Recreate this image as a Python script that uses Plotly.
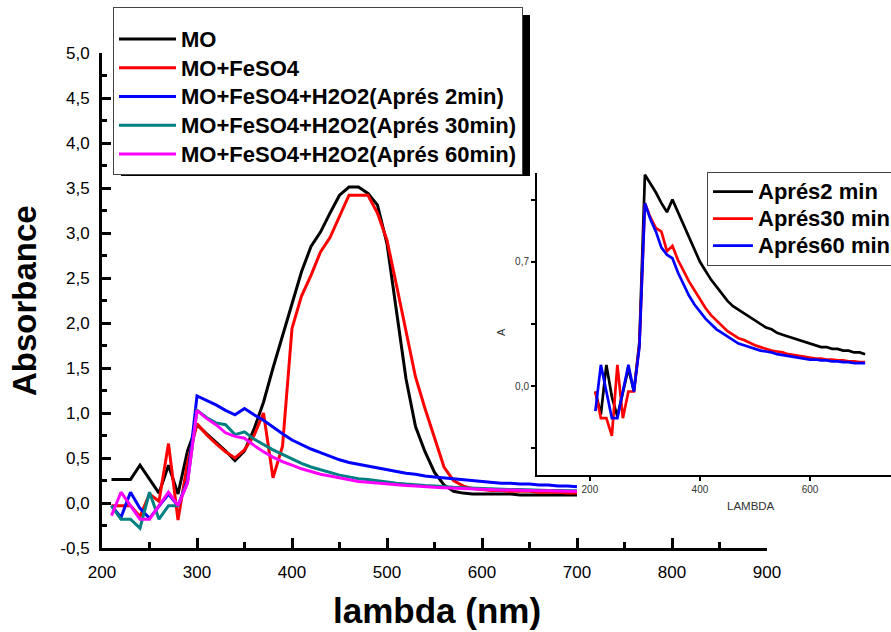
import plotly.graph_objects as go

# ---------------- data ----------------
wavelength = [210, 220, 230, 240, 250, 260, 270, 280, 290, 300,
              310, 320, 330, 340, 350, 360, 370, 380, 390, 400,
              410, 420, 430, 440, 450, 460, 470, 480, 490, 500,
              510, 520, 530, 540, 550, 560, 570, 580, 590, 600,
              610, 620, 630, 640, 650, 660, 670, 680, 690, 700]

mo = [0.26, 0.26, 0.26, 0.42, 0.27, 0.11, 0.42, 0.10, 0.58, 0.87,
      0.77, 0.68, 0.58, 0.47, 0.58, 0.82, 1.12, 1.50, 1.85, 2.22,
      2.57, 2.85, 3.01, 3.22, 3.42, 3.51, 3.51, 3.44, 3.31, 2.88,
      2.15, 1.38, 0.85, 0.57, 0.34, 0.20, 0.13, 0.11, 0.10, 0.10,
      0.10, 0.10, 0.10, 0.09, 0.09, 0.09, 0.09, 0.09, 0.09, 0.09]

mo_feso4 = [-0.03, -0.03, -0.03, -0.15, 0.10, 0.02, 0.66, -0.19, 0.45, 0.88,
            0.76, 0.66, 0.57, 0.50, 0.59, 0.75, 1.00, 0.28, 0.63, 1.94,
            2.30, 2.53, 2.79, 2.95, 3.18, 3.42, 3.42, 3.42, 3.22, 2.92,
            2.42, 1.90, 1.40, 1.05, 0.72, 0.40, 0.25, 0.19, 0.16, 0.15,
            0.14, 0.14, 0.13, 0.13, 0.13, 0.12, 0.12, 0.12, 0.11, 0.11]

h2o2_2min = [-0.03, -0.16, 0.12, -0.06, -0.17, -0.03, 0.10, -0.03, 0.25, 1.19,
             1.14, 1.09, 1.03, 0.98, 1.05, 0.98, 0.92, 0.84, 0.77, 0.70,
             0.65, 0.60, 0.56, 0.52, 0.48, 0.45, 0.43, 0.41, 0.39, 0.37,
             0.35, 0.33, 0.32, 0.30, 0.29, 0.28, 0.27, 0.26, 0.25, 0.24,
             0.23, 0.22, 0.22, 0.21, 0.21, 0.20, 0.20, 0.19, 0.19, 0.18]

h2o2_30min = [-0.03, -0.18, -0.18, -0.28, 0.12, -0.18, -0.03, -0.03, 0.23, 1.03,
              0.95, 0.89, 0.87, 0.76, 0.79, 0.71, 0.65, 0.59, 0.54, 0.49,
              0.44, 0.40, 0.37, 0.34, 0.31, 0.29, 0.27, 0.26, 0.245, 0.23,
              0.22, 0.21, 0.20, 0.195, 0.19, 0.18, 0.175, 0.17, 0.165, 0.16,
              0.155, 0.155, 0.15, 0.15, 0.145, 0.145, 0.14, 0.14, 0.135, 0.135]

h2o2_60min = [-0.14, 0.12, -0.03, -0.18, -0.18, -0.03, 0.12, -0.03, 0.22, 1.03,
              0.94, 0.87, 0.78, 0.74, 0.72, 0.64, 0.57, 0.51, 0.46, 0.42,
              0.38, 0.35, 0.32, 0.30, 0.28, 0.26, 0.24, 0.23, 0.22, 0.21,
              0.20, 0.195, 0.19, 0.18, 0.175, 0.17, 0.165, 0.16, 0.155, 0.15,
              0.15, 0.145, 0.145, 0.14, 0.14, 0.135, 0.135, 0.13, 0.13, 0.13]

main_names = ["MO", "MO+FeSO4", "MO+FeSO4+H2O2(Aprés 2min)",
              "MO+FeSO4+H2O2(Aprés 30min)", "MO+FeSO4+H2O2(Aprés 60min)"]
main_series = [mo, mo_feso4, h2o2_2min, h2o2_30min, h2o2_60min]
main_colors = ["#000000", "#ff0000", "#0000ff", "#008080", "#ff00ff"]

inset_names = ["Aprés2 min", "Aprés30 min", "Aprés60 min"]
inset_series = [h2o2_2min, h2o2_30min, h2o2_60min]
inset_colors = ["#000000", "#ff0000", "#0000ff"]

main_x_ticks = [200, 300, 400, 500, 600, 700, 800, 900]
main_y_tickvals = [-0.5, 0.0, 0.5, 1.0, 1.5, 2.0, 2.5, 3.0, 3.5, 4.0, 4.5, 5.0]
main_y_ticktext = ["-0,5", "0,0", "0,5", "1,0", "1,5", "2,0", "2,5", "3,0",
                   "3,5", "4,0", "4,5", "5,0"]
inset_x_ticks = [200, 400, 600]
inset_y_tickvals = [-0.35, 0.0, 0.35, 0.7, 1.05]
inset_y_ticktext = ["", "0,0", "", "0,7", ""]

# ---------------- figure ----------------
W, H = 891, 632
FONT = "Liberation Sans, Arial, Helvetica, sans-serif"


def px_x(p):
    return p / W


def px_y(p):
    return 1 - p / H


fig = go.Figure()

for name, ys, col in zip(main_names, main_series, main_colors):
    fig.add_trace(go.Scatter(
        x=wavelength, y=ys, mode="lines", name=name,
        legendgroup=name, legend="legend",
        line=dict(color=col, width=3),
        xaxis="x", yaxis="y"))

for name, ys, col in zip(inset_names, inset_series, inset_colors):
    fig.add_trace(go.Scatter(
        x=wavelength, y=ys, mode="lines", name=name,
        legendgroup="inset_" + name, legend="legend2",
        line=dict(color=col, width=2.7),
        xaxis="x2", yaxis="y2"))

# legend names drawn a bit larger than the font used for line spacing
for tr in fig.data:
    tr.name = '<span style="font-size:22px">' + tr.name + '</span>'

fig.update_layout(
    width=W, height=H,
    margin=dict(l=0, r=0, t=0, b=0, autoexpand=False),
    paper_bgcolor="white", plot_bgcolor="rgba(0,0,0,0)",
    font=dict(family=FONT, color="black"),
    xaxis=dict(
        domain=[px_x(102), px_x(767)], range=[200, 900], anchor="y",
        showline=True, linecolor="black", linewidth=3, mirror=False,
        showgrid=False, zeroline=False,
        tickmode="array", tickvals=main_x_ticks,
        ticks="inside", ticklen=10, tickwidth=2.5, tickcolor="black",
        tickfont=dict(size=17, color="black", family=FONT),
        ticklabelstandoff=7,
        minor=dict(tickmode="linear", tick0=0, dtick=50, ticks="inside",
                   ticklen=6, tickwidth=2.5, tickcolor="black", showgrid=False),
    ),
    yaxis=dict(
        domain=[px_y(548), px_y(53)], range=[-0.5, 5.0], anchor="x",
        showline=True, linecolor="black", linewidth=3, mirror=False,
        showgrid=False, zeroline=False,
        tickmode="array", tickvals=main_y_tickvals, ticktext=main_y_ticktext,
        ticks="inside", ticklen=9, tickwidth=2.5, tickcolor="black",
        tickfont=dict(size=17, color="black", family=FONT),
        ticklabelstandoff=6,
        minor=dict(tickmode="linear", tick0=0, dtick=0.25, ticks="inside",
                   ticklen=5, tickwidth=2.5, tickcolor="black", showgrid=False),
    ),
    xaxis2=dict(
        domain=[px_x(537), 1.0], range=[104, 747], anchor="y2",
        showline=True, linecolor="black", linewidth=2, mirror=False,
        showgrid=False, zeroline=False,
        tickmode="array", tickvals=inset_x_ticks,
        ticks="outside", ticklen=4, tickwidth=1.5, tickcolor="black",
        tickfont=dict(size=10, color="#333333", family=FONT),
    ),
    yaxis2=dict(
        domain=[px_y(475), px_y(173)], range=[-0.5, 1.2], anchor="x2",
        showline=True, linecolor="black", linewidth=2, mirror=False,
        showgrid=False, zeroline=False,
        tickmode="array", tickvals=inset_y_tickvals, ticktext=inset_y_ticktext,
        ticks="outside", ticklen=4, tickwidth=1.5, tickcolor="black",
        tickfont=dict(size=10, color="#333333", family=FONT),
    ),
    legend=dict(
        x=px_x(113), y=px_y(7), xanchor="left", yanchor="top",
        bgcolor="white", bordercolor="#444444", borderwidth=1,
        font=dict(size=19.8, family=FONT, color="black", weight="bold"),
        title=dict(text=" ", font=dict(size=9)),
        tracegroupgap=0, itemwidth=57,
    ),
    legend2=dict(
        x=px_x(707), y=px_y(172), xanchor="left", yanchor="top",
        bgcolor="white", bordercolor="#444444", borderwidth=1,
        font=dict(size=18.5, family=FONT, color="black", weight="bold"),
        tracegroupgap=0, itemwidth=40,
    ),
    showlegend=True,
)

# legend drop shadows
fig.add_shape(type="rect", xref="paper", yref="paper", layer="above",
              x0=px_x(121), x1=px_x(530), y0=px_y(176), y1=px_y(15),
              fillcolor="black", line=dict(width=0))
fig.add_shape(type="rect", xref="paper", yref="paper", layer="above",
              x0=px_x(710), x1=px_x(900), y0=px_y(259), y1=px_y(175),
              fillcolor="black", line=dict(width=0))

# axis titles
fig.add_annotation(text="<b>lambda (nm)</b>", xref="paper", yref="paper",
                   x=px_x(437), y=px_y(610), showarrow=False,
                   xanchor="center", yanchor="middle",
                   font=dict(size=35, family=FONT, color="black"))
fig.add_annotation(text="<b>Absorbance</b>", xref="paper", yref="paper",
                   x=px_x(24), y=px_y(301), showarrow=False, textangle=-90,
                   xanchor="center", yanchor="middle",
                   font=dict(size=33, family=FONT, color="black"))
fig.add_annotation(text="LAMBDA", xref="paper", yref="paper",
                   x=px_x(751), y=px_y(506), showarrow=False,
                   xanchor="center", yanchor="middle",
                   font=dict(size=11.5, family=FONT, color="#333333"))
fig.add_annotation(text="A", xref="paper", yref="paper",
                   x=px_x(501), y=px_y(332), showarrow=False, textangle=-90,
                   xanchor="center", yanchor="middle",
                   font=dict(size=11, family=FONT, color="#333333"))

fig.write_html(
    "out.html",
    config={"displayModeBar": False},
    post_script="document.body.style.margin='0';document.body.style.overflow='hidden';")
